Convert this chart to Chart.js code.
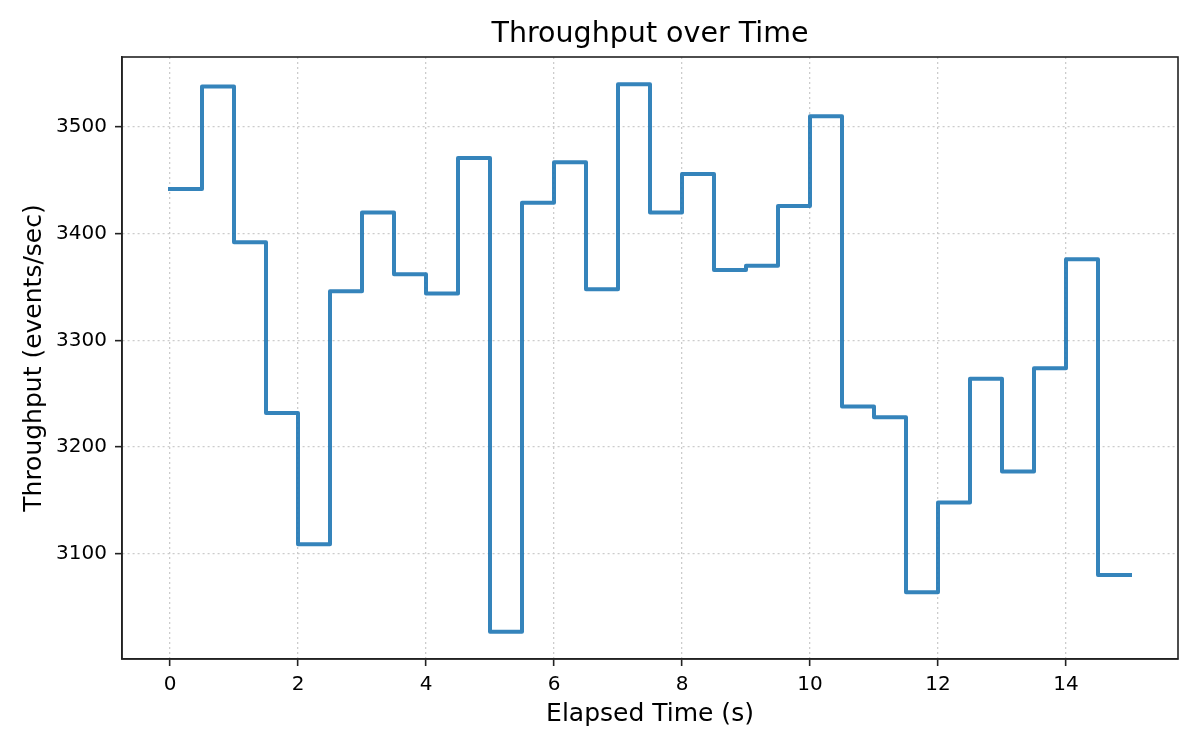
<!DOCTYPE html>
<html>
<head>
<meta charset="utf-8">
<script src="https://cdn.jsdelivr.net/npm/chart.js@4.4.1/dist/chart.umd.min.js"></script>
<style>
  html, body { margin: 0; padding: 0; background: #fff; }
  #wrap { width: 1200px; height: 750px; }
</style>
</head>
<body>
<div id="wrap"><canvas id="grafico" width="1200" height="750"></canvas></div>
<script>
// elapsed time (s) and throughput (events/sec), step plot (post)
const times = [0, 0.5, 1, 1.5, 2, 2.5, 3, 3.5, 4, 4.5, 5, 5.5, 6, 6.5, 7, 7.5,
               8, 8.5, 9, 9.5, 10, 10.5, 11, 11.5, 12, 12.5, 13, 13.5, 14, 14.5, 15];
const throughput = [3442, 3538, 3392, 3232, 3109, 3346, 3420, 3362, 3344, 3471,
                    3027, 3429, 3467, 3348, 3540, 3420, 3456, 3366, 3370, 3426,
                    3510, 3238, 3228, 3064, 3148, 3264, 3177, 3274, 3376, 3080, 3080];
const xTicks = [0, 2, 4, 6, 8, 10, 12, 14];
const yTicks = [3100, 3200, 3300, 3400, 3500];
const chartTitle = "Throughput over Time";

const FONT = "'DejaVu Sans', sans-serif";

// matplotlib-like 5% margins
function padRange(arr) {
    const lo = Math.min(...arr), hi = Math.max(...arr);
    const m = (hi - lo) * 0.05;
    return [lo - m, hi + m];
}
const [xMin, xMax] = padRange(times);
const [yMin, yMax] = padRange(throughput);

// box around the axes + title centred over the plot area
const framePlugin = {
    id: "frame",
    afterDraw(chart) {
        const { ctx, chartArea: a } = chart;
        ctx.save();
        ctx.strokeStyle = "#222";
        ctx.lineWidth = 1.6;
        ctx.strokeRect(a.left, a.top, a.right - a.left, a.bottom - a.top);
        ctx.fillStyle = "#000";
        ctx.font = "28.5px " + FONT;
        ctx.textAlign = "center";
        ctx.textBaseline = "alphabetic";
        ctx.fillText(chartTitle, (a.left + a.right) / 2, 42);
        ctx.restore();
    }
};

const gridOpts = {
    color: "#cccccc",
    lineWidth: 1.3,
    tickColor: "#222",
    tickWidth: 1.6,
    tickLength: 7,
    tickBorderDash: []
};
const borderOpts = { color: "#222", width: 1.6, dash: [2, 3] };

const ctx = document.getElementById("grafico");
new Chart(ctx, {
    type: "line",
    data: {
        datasets: [{
            label: "Throughput",
            data: times.map((t, i) => ({ x: t, y: throughput[i] })),
            stepped: "before",
            borderColor: "rgba(31,119,180,0.9)",
            borderWidth: 4,
            borderJoinStyle: "round",
            borderCapStyle: "square",
            pointRadius: 0,
            fill: false
        }]
    },
    options: {
        responsive: false,
        animation: false,
        layout: { padding: { left: 0, right: 22, top: 57, bottom: 0 } },
        plugins: {
            legend: { display: false },
            tooltip: { enabled: false },
            title: { display: false }
        },
        scales: {
            x: {
                type: "linear",
                min: xMin,
                max: xMax,
                afterBuildTicks: s => { s.ticks = xTicks.map(v => ({ value: v })); },
                afterFit: s => { s.height = 91; },
                grid: gridOpts,
                border: borderOpts,
                ticks: {
                    color: "#000",
                    padding: 7,
                    maxRotation: 0,
                    font: { family: FONT, size: 20 },
                    callback: v => String(v)
                },
                title: {
                    display: true,
                    text: "Elapsed Time (s)",
                    color: "#000",
                    font: { family: FONT, size: 25 },
                    padding: { top: 0, bottom: 21 }
                }
            },
            y: {
                type: "linear",
                min: yMin,
                max: yMax,
                afterBuildTicks: s => { s.ticks = yTicks.map(v => ({ value: v })); },
                afterFit: s => { s.width = 122; },
                grid: gridOpts,
                border: borderOpts,
                ticks: {
                    color: "#000",
                    padding: 8,
                    font: { family: FONT, size: 20 },
                    callback: v => String(v)
                },
                title: {
                    display: true,
                    text: "Throughput (events/sec)",
                    color: "#000",
                    font: { family: FONT, size: 25 },
                    padding: { top: 19, bottom: 0 }
                }
            }
        }
    },
    plugins: [framePlugin]
});
</script>
</body>
</html>
